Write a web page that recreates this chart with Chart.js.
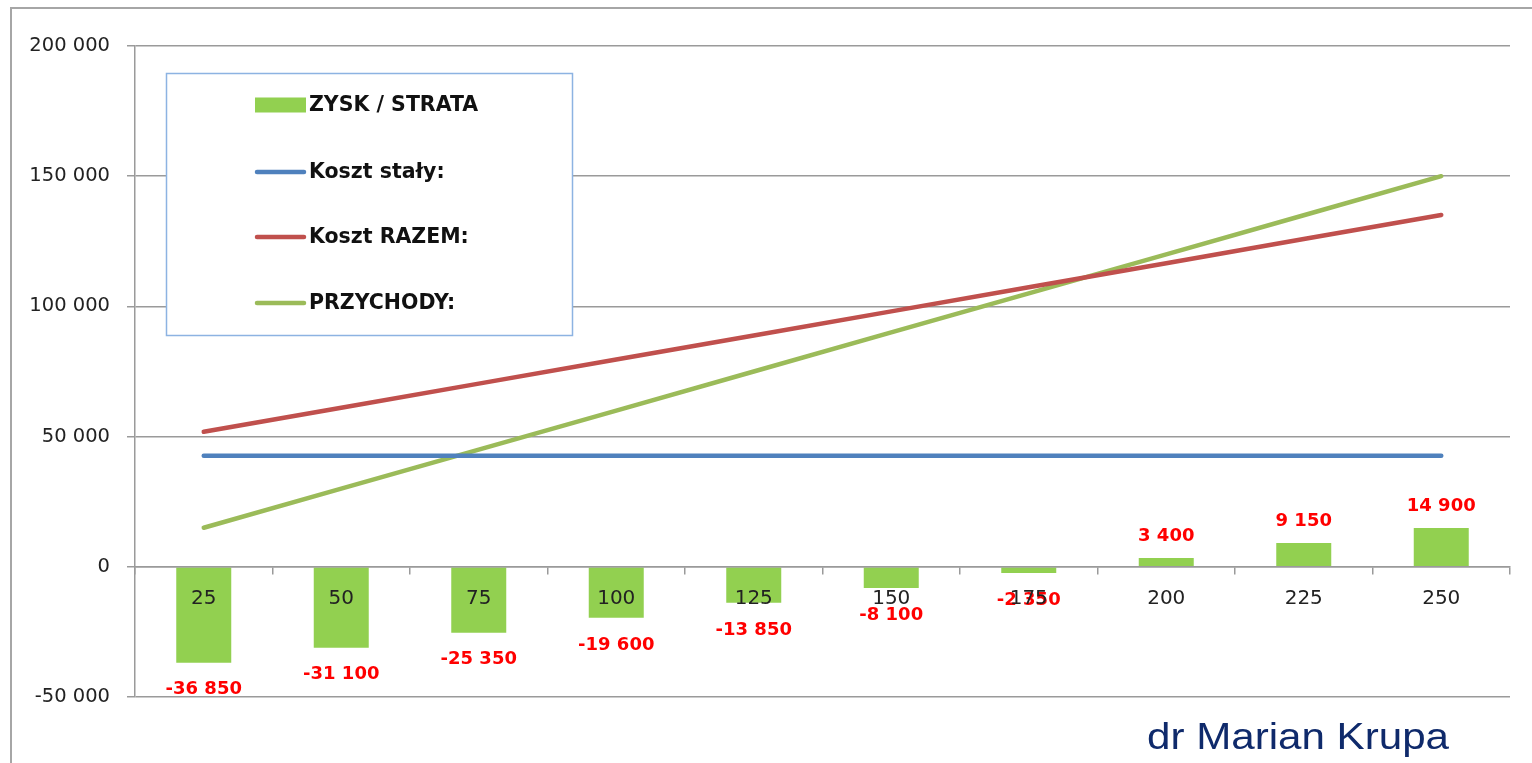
<!DOCTYPE html>
<html lang="pl">
<head>
<meta charset="utf-8">
<title>Próg rentowności</title>
<script src="https://cdn.jsdelivr.net/npm/chart.js@4.4.1/dist/chart.umd.min.js"></script>
<style>
  html, body { margin: 0; padding: 0; background: #fff; overflow: hidden; }
  #wrap { position: relative; width: 1532px; height: 763px; }
  #frame {
    position: absolute; left: 10px; top: 7px; width: 1600px; height: 800px;
    border-left: 2px solid #a6a6a6; border-top: 2px solid #a6a6a6;
  }
  #chart { position: absolute; left: 0; top: 0; }
  .author {
    position: absolute; left: 1147px; top: 719px;
    font: 36px 'Liberation Sans', Arial, sans-serif; line-height: 36px;
    color: #0f2a6b; white-space: nowrap;
    transform: scaleX(1.17); transform-origin: left top;
  }
</style>
</head>
<body>
<div id="wrap">
  <div id="frame"></div>
  <canvas id="chart" width="1532" height="763"></canvas>
  <div class="author">dr Marian Krupa</div>
</div>
<script>
// --- dane ---
const quantities = ['25', '50', '75', '100', '125', '150', '175', '200', '225', '250'];
const profitLoss = [-36850, -31100, -25350, -19600, -13850, -8100, -2350, 3400, 9150, 14900];
const fixedCost  = [42600, 42600, 42600, 42600, 42600, 42600, 42600, 42600, 42600, 42600];
const totalCost  = [51850, 61100, 70350, 79600, 88850, 98100, 107350, 116600, 125850, 135100];
const revenue    = [15000, 30000, 45000, 60000, 75000, 90000, 105000, 120000, 135000, 150000];
const seriesNames = ['ZYSK / STRATA', 'Koszt stały:', 'Koszt RAZEM:', 'PRZYCHODY:'];
const yRange = [-50000, 200000];
const yStep = 50000;

// liczby z odstępem tysięcy: "-36 850"
function fmt(v) {
  const s = Math.abs(Math.round(v)).toString().replace(/\B(?=(\d{3})+(?!\d))/g, ' ');
  return (v < 0 ? '-' : '') + s;
}

const FONT = "'DejaVu Sans', 'Open Sans', sans-serif";
const GRID = '#9a9a9a';

// etykiety danych nad / pod słupkami
const barLabels = {
  id: 'barLabels',
  afterDatasetsDraw(chart) {
    const c = chart.ctx;
    const meta = chart.getDatasetMeta(0);
    c.save();
    c.font = 'bold 18px ' + FONT;
    c.fillStyle = '#ff0000';
    c.textAlign = 'center';
    c.textBaseline = 'middle';
    meta.data.forEach((bar, i) => {
      const v = profitLoss[i];
      const y = v < 0 ? bar.y + 27 : bar.y - 22;
      c.fillText(fmt(v), bar.x, y);
    });
    c.restore();
  }
};

// legenda w ramce wewnątrz obszaru wykresu
const boxLegend = {
  id: 'boxLegend',
  afterDraw(chart) {
    const c = chart.ctx;
    const left = 166, top = 73, w = 406, h = 262;
    c.save();
    c.fillStyle = '#fff';
    c.fillRect(left, top, w, h);
    c.strokeStyle = '#8db3e2';
    c.lineWidth = 1.5;
    c.strokeRect(left + 0.5, top + 0.5, w, h);

    const rows = [105, 172, 237, 303];
    c.font = 'bold 20.5px ' + FONT;
    c.textBaseline = 'middle';
    c.textAlign = 'left';
    chart.data.datasets.forEach((ds, i) => {
      const y = rows[i];
      if (ds.type === 'bar') {
        c.fillStyle = ds.backgroundColor;
        c.fillRect(255, y - 7.5, 51, 15);
      } else {
        c.strokeStyle = ds.borderColor;
        c.lineWidth = 4.5;
        c.lineCap = 'round';
        c.beginPath();
        c.moveTo(257, y);
        c.lineTo(304, y);
        c.stroke();
      }
      c.fillStyle = '#111';
      c.fillText(ds.label, 309, y + 1);
    });
    c.restore();
  }
};

const lineStyle = {
  type: 'line',
  borderWidth: 4.5,
  borderCapStyle: 'round',
  pointRadius: 0,
  pointHoverRadius: 0,
  tension: 0,
  fill: false,
  order: 1
};

new Chart(document.getElementById('chart'), {
  data: {
    labels: quantities,
    datasets: [
      {
        type: 'bar',
        label: seriesNames[0],
        data: profitLoss,
        backgroundColor: '#92d050',
        categoryPercentage: 0.8,
        barPercentage: 0.5,
        order: 2
      },
      { ...lineStyle, label: seriesNames[1], data: fixedCost, borderColor: '#4f81bd' },
      { ...lineStyle, label: seriesNames[2], data: totalCost, borderColor: '#c0504d' },
      { ...lineStyle, label: seriesNames[3], data: revenue, borderColor: '#9bbb59' }
    ]
  },
  plugins: [barLabels, boxLegend],
  options: {
    responsive: false,
    animation: false,
    layout: { padding: { left: 10, top: 46, right: 22, bottom: 66 } },
    plugins: {
      legend: { display: false },
      tooltip: { enabled: false }
    },
    scales: {
      x: {
        type: 'category',
        position: { y: 0 },
        offset: true,
        grid: {
          offset: true,
          drawOnChartArea: false,
          drawTicks: true,
          tickLength: 7,
          color: GRID,
          lineWidth: 1.5
        },
        border: { display: true, color: GRID, width: 1.5, z: 1 },
        ticks: {
          z: 1,
          font: { family: FONT, size: 20 },
          color: '#222',
          padding: 13,
          maxRotation: 0
        }
      },
      y: {
        min: yRange[0],
        max: yRange[1],
        afterFit: (s) => { s.width = 125; },
        grid: {
          color: GRID,
          lineWidth: 1.5,
          tickLength: 8
        },
        border: { display: true, color: GRID, width: 1.5 },
        ticks: {
          stepSize: yStep,
          font: { family: FONT, size: 19.5 },
          color: '#222',
          padding: 17,
          callback: (v) => fmt(v)
        }
      }
    }
  }
});
</script>
</body>
</html>
